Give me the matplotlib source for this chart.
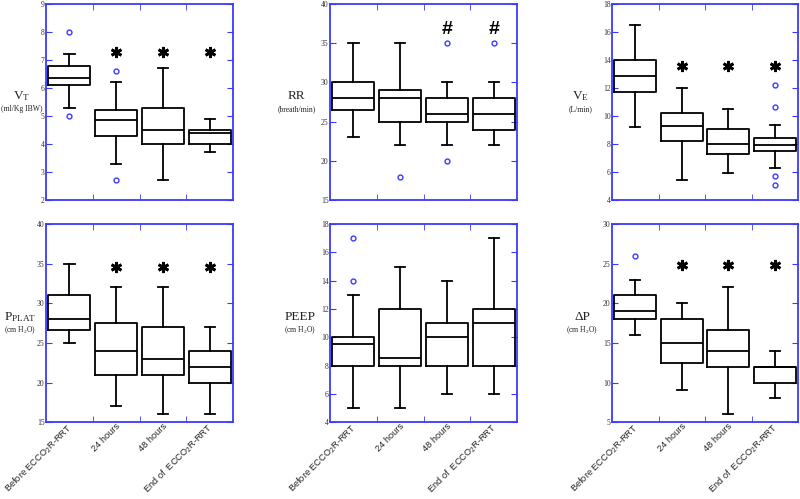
import numpy as np
import matplotlib.pyplot as plt
from matplotlib.transforms import ScaledTranslation

plt.rcParams["mathtext.default"] = "regular"

groups = ["Before ECCO$_2$R-RRT", "24 hours", "48 hours", "End of  ECCO$_2$R-RRT"]

# box stats per group: (whislo, q1, med, q3, whishi)
vt_stats = [(5.3, 6.1, 6.35, 6.8, 7.2), (3.3, 4.3, 4.85, 5.2, 6.2),
            (2.7, 4.0, 4.5, 5.3, 6.7), (3.7, 4.0, 4.4, 4.5, 4.9)]
vt_fliers = [[8.0, 5.0], [6.6, 2.7], [], []]

rr_stats = [(23, 26.5, 28, 30, 35), (22, 25, 28, 29, 35),
            (22, 25, 26, 28, 30), (22, 24, 26, 28, 30)]
rr_fliers = [[], [18], [35, 20], [35]]

ve_stats = [(9.25, 11.75, 12.85, 14.0, 16.5), (5.4, 8.2, 9.28, 10.25, 12.0),
            (5.93, 7.28, 8.04, 9.11, 10.5), (6.26, 7.49, 7.9, 8.4, 9.35)]
ve_fliers = [[], [], [], [12.25, 10.66, 5.71, 5.07]]

pplat_stats = [(25, 26.6, 28, 31, 35), (17, 21, 24, 27.5, 32),
               (16, 21, 23, 27, 32), (16, 20, 22, 24, 27)]
pplat_fliers = [[], [], [], []]

peep_stats = [(5, 8, 9.5, 10, 13), (5, 8, 8.5, 12, 15),
              (6, 8, 10, 11, 14), (6, 8, 11, 12, 17)]
peep_fliers = [[17, 14], [], [], []]

dp_stats = [(16, 18, 19, 21, 23), (9, 12.5, 15, 18, 20),
            (6, 12, 14, 16.6, 22), (8, 10, 12, 12, 14)]
dp_fliers = [[26], [], [], []]

panels = [
    dict(stats=vt_stats, fliers=vt_fliers, ylim=(2, 9), step=1,
         name="V$_T$", unit="(ml/Kg IBW)", mark="*", mark_y=7.3, lx=-0.13),
    dict(stats=rr_stats, fliers=rr_fliers, ylim=(15, 40), step=5,
         name="RR", unit="(breath/min)", mark="#", mark_y=36.8, lx=-0.18),
    dict(stats=ve_stats, fliers=ve_fliers, ylim=(4, 18), step=2,
         name="V$_E$", unit="(L/min)", mark="*", mark_y=13.55, lx=-0.17),
    dict(stats=pplat_stats, fliers=pplat_fliers, ylim=(15, 40), step=5,
         name="P$_{PLAT}$", unit="(cm H$_2$O)", mark="*", mark_y=34.6, lx=-0.14),
    dict(stats=peep_stats, fliers=peep_fliers, ylim=(4, 18), step=2,
         name="PEEP", unit="(cm H$_2$O)", mark=None, mark_y=None, lx=-0.16),
    dict(stats=dp_stats, fliers=dp_fliers, ylim=(5, 30), step=5,
         name="ΔP", unit="(cm H$_2$O)", mark="*", mark_y=24.8, lx=-0.16),
]

blue = "#3a3aff"
serif = "Liberation Serif"

fig = plt.figure(figsize=(8, 4.99), dpi=100)
lefts = [0.0575, 0.4125, 0.765]
widths = [0.234, 0.234, 0.2325]
bottoms = [0.599, 0.154]
heights = [0.393, 0.397]

for i, p in enumerate(panels):
    row, col = divmod(i, 3)
    ax = fig.add_axes([lefts[col], bottoms[row], widths[col], heights[row]])

    bxp_stats = []
    for (lo, q1, med, q3, hi), fl in zip(p["stats"], p["fliers"]):
        bxp_stats.append(dict(whislo=lo, q1=q1, med=med, q3=q3, whishi=hi, fliers=fl))

    ax.bxp(bxp_stats, positions=[1, 2, 3, 4], widths=0.9, capwidths=0.22,
           boxprops=dict(color="k", lw=1.3),
           medianprops=dict(color="k", lw=1.3),
           whiskerprops=dict(color="k", lw=1.3),
           capprops=dict(color="k", lw=1.3),
           flierprops=dict(marker="o", ms=3.5, mfc="none", mec=blue, mew=1.0))

    ax.set_xlim(0.5, 4.5)
    ax.set_ylim(*p["ylim"])
    ax.set_yticks(np.arange(p["ylim"][0], p["ylim"][1] + 0.1, p["step"]))
    ax.set_xticks([1, 2, 3, 4])
    ax.set_xticks([1.5, 2.5, 3.5], minor=True)
    ax.tick_params(axis="x", which="major", length=0, pad=1)
    ax.tick_params(axis="x", which="minor", direction="in", length=4,
                   color=blue, top=True, bottom=True)
    ax.tick_params(axis="y", direction="in", length=4, color=blue,
                   left=True, right=True, labelsize=5.5, pad=1)
    for lab in ax.get_yticklabels():
        lab.set_fontfamily(serif)
        lab.set_color("#333333")
    for s in ax.spines.values():
        s.set_color(blue)
        s.set_linewidth(1.3)

    if row == 1:
        ax.set_xticklabels(groups, rotation=45, ha="right", fontsize=6.7,
                           fontfamily="Liberation Sans", color="#222222")
        off = ScaledTranslation(6 / 100, 2 / 100, fig.dpi_scale_trans)
        for lab in ax.get_xticklabels():
            lab.set_transform(lab.get_transform() + off)
    else:
        ax.set_xticklabels([])

    ax.text(p["lx"], 0.53, p["name"], transform=ax.transAxes, ha="center",
            va="center", fontsize=9.5, fontfamily=serif, color="#222222")
    ax.text(p["lx"], 0.465, p["unit"], transform=ax.transAxes, ha="center",
            va="center", fontsize=5.5, fontfamily=serif, color="#222222")

    if p["mark"] == "*":
        ax.plot([2, 3, 4], [p["mark_y"]] * 3, ls="none", marker=(6, 2, 0),
                ms=8, mew=2.0, color="k")
    elif p["mark"] == "#":
        for x in [3, 4]:
            ax.text(x, p["mark_y"], "#", ha="center", va="center",
                    fontsize=14, fontweight="bold", fontfamily="Liberation Sans")

fig.savefig("out.png", dpi=100)
